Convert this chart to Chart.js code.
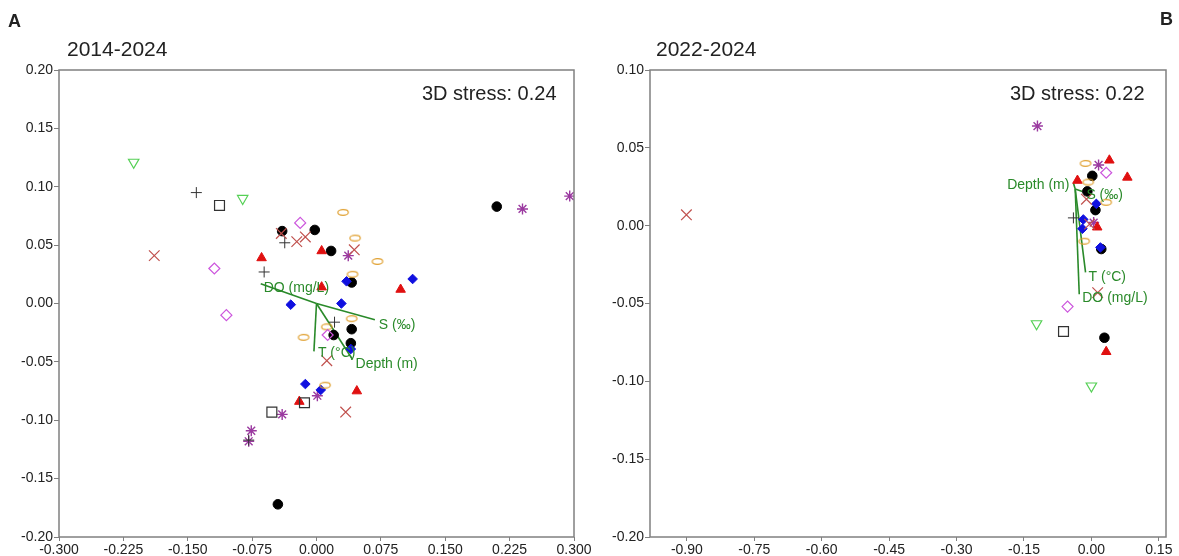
<!DOCTYPE html>
<html>
<head>
<meta charset="utf-8">
<script src="https://cdn.jsdelivr.net/npm/chart.js@4.4.1/dist/chart.umd.min.js"></script>
<style>
body { margin:0; background:#fff; width:1179px; height:556px; overflow:hidden; position:relative; font-family:"Liberation Sans", Arial, sans-serif; }
.wrap { position:absolute; top:0; height:556px; }
#wrapA { left:0; width:600px; }
#wrapB { left:589px; width:590px; }
.txt { position:absolute; color:#222; white-space:nowrap; line-height:1; }
</style>
</head>
<body>
<div class="wrap" id="wrapA"><canvas id="chartA"></canvas></div>
<div class="wrap" id="wrapB"><canvas id="chartB"></canvas></div>
<div class="txt" style="left:8px;top:12px;font-weight:bold;font-size:18px;">A</div>
<div class="txt" style="left:1160px;top:10px;font-weight:bold;font-size:18px;">B</div>
<div class="txt" style="left:67px;top:38px;font-size:21px;">2014-2024</div>
<div class="txt" style="left:656px;top:38px;font-size:21px;">2022-2024</div>
<div class="txt" style="left:422px;top:83px;font-size:20px;">3D stress: 0.24</div>
<div class="txt" style="left:1010px;top:83px;font-size:20px;">3D stress: 0.22</div>
<script>
// ---- panel A: 2014-2024 ----
var xTicksA = [-0.300, -0.225, -0.150, -0.075, 0.000, 0.075, 0.150, 0.225, 0.300];
var yTicksA = [0.20, 0.15, 0.10, 0.05, 0.00, -0.05, -0.10, -0.15, -0.20];

var circleA = [[-0.040,0.062],[-0.002,0.063],[0.017,0.045],[0.041,0.018],[0.041,-0.022],[0.020,-0.027],[0.040,-0.034],[0.210,0.083],[-0.045,-0.172]];
var triA = [[-0.064,0.039],[0.006,0.045],[0.006,0.014],[0.098,0.012],[0.047,-0.075],[-0.020,-0.084]];
var blueA = [[0.035,0.019],[0.112,0.021],[-0.030,-0.001],[0.029,0.000],[0.040,-0.039],[-0.013,-0.069],[0.005,-0.074]];
var ovalA = [[0.031,0.078],[0.045,0.056],[0.071,0.036],[0.042,0.025],[0.041,-0.013],[0.012,-0.020],[-0.015,-0.029],[0.010,-0.070]];
var starA = [[0.037,0.041],[0.001,-0.079],[-0.040,-0.095],[-0.076,-0.109],[-0.079,-0.118],[0.240,0.081],[0.295,0.092]];
var violetA = [[-0.119,0.030],[-0.105,-0.010],[-0.019,0.069],[0.013,-0.027]];
var crossA = [[-0.189,0.041],[-0.041,0.060],[-0.023,0.053],[-0.013,0.057],[0.044,0.046],[0.012,-0.049],[0.034,-0.093]];
var plusA = [[-0.140,0.095],[-0.037,0.052],[-0.061,0.027],[0.021,-0.016],[-0.079,-0.117]];
var squareA = [[-0.113,0.084],[-0.052,-0.093],[-0.014,-0.085]];
var downA = [[-0.213,0.121],[-0.086,0.090]];

var vecOriginA = [0, 0];
var vecNames = ['DO (mg/L)', 'S (‰)', 'T (°C)', 'Depth (m)'];
var vecEndA = [[-0.065,0.017],[0.068,-0.014],[-0.003,-0.041],[0.042,-0.048]];

// ---- panel B: 2022-2024 ----
var xTicksB = [-0.90, -0.75, -0.60, -0.45, -0.30, -0.15, 0.00, 0.15];
var yTicksB = [0.10, 0.05, 0.00, -0.05, -0.10, -0.15, -0.20];

var circleB = [[0.002,0.032],[-0.009,0.022],[0.009,0.010],[0.022,-0.015],[0.029,-0.072]];
var triB = [[0.040,0.042],[-0.031,0.029],[0.080,0.031],[0.013,-0.001],[0.033,-0.081]];
var blueB = [[0.011,0.014],[-0.018,0.004],[-0.020,-0.002],[0.020,-0.014]];
var ovalB = [[-0.013,0.040],[-0.007,0.028],[0.033,0.015],[-0.016,-0.010]];
var starB = [[0.016,0.039],[0.005,0.002],[-0.120,0.064]];
var violetB = [[0.033,0.034],[-0.053,-0.052]];
var crossB = [[-0.011,0.017],[-0.004,0.001],[0.014,-0.043],[-0.901,0.007]];
var plusB = [[-0.040,0.005]];
var squareB = [[-0.062,-0.068]];
var downB = [[-0.122,-0.063],[0.000,-0.103]];

var vecOriginB = [-0.036, 0.0235];
var vecEndB = [[-0.027,-0.044],[-0.020,0.022],[-0.013,-0.030],[-0.040,0.0274]];

// label placement next to vector tips (px offset, alignment)
var vecLblA = [[3,4,'left'],[4,5,'left'],[4,2,'left'],[3,5,'left']];
var vecLblB = [[3,4,'left'],[4,4,'left'],[3,5,'left'],[-4,2,'right']];

var green = '#2a8a2a';

// open ellipse marker
function ovalImg() {
   var c = document.createElement('canvas');
   c.width = 14; c.height = 9;
   var g = c.getContext('2d');
   g.strokeStyle = '#e0a030';
   g.lineWidth = 1.2;
   g.beginPath();
   g.ellipse(7, 4.5, 5.2, 2.8, 0, 0, Math.PI * 2);
   g.stroke();
   return c;
}
var oval = ovalImg();

function pts(arr) {
   return arr.map(function(p) { return {x: p[0], y: p[1]}; });
}

function series(d) {
   return [
      {data: pts(d.down), pointStyle: 'triangle', rotation: 180, radius: 6, borderColor: '#55d055', backgroundColor: 'rgba(0,0,0,0)', borderWidth: 1.2},
      {data: pts(d.plus), pointStyle: 'cross', radius: 5.5, borderColor: '#333', borderWidth: 1},
      {data: pts(d.square), pointStyle: 'rect', radius: 7, borderColor: '#333', backgroundColor: 'rgba(0,0,0,0)', borderWidth: 1.2},
      {data: pts(d.cross), pointStyle: 'crossRot', radius: 7.5, borderColor: '#c0504d', borderWidth: 1.2},
      {data: pts(d.violet), pointStyle: 'rectRot', radius: 5.5, borderColor: '#cc55dd', backgroundColor: 'rgba(0,0,0,0)', borderWidth: 1.2},
      {data: pts(d.oval), pointStyle: oval, radius: 5},
      {data: pts(d.tri), pointStyle: 'triangle', radius: 5.5, borderColor: '#e01010', backgroundColor: '#e01010', borderWidth: 1},
      {data: pts(d.blue), pointStyle: 'rectRot', radius: 4.8, borderColor: '#1010e0', backgroundColor: '#1010e0', borderWidth: 1},
      {data: pts(d.circle), pointStyle: 'circle', radius: 4.8, borderColor: '#000', backgroundColor: '#000', borderWidth: 1},
      {data: pts(d.star), pointStyle: 'star', radius: 5.5, borderColor: '#9b3aa0', borderWidth: 1.4}
   ];
}

function vectors(origin, ends) {
   return ends.map(function(e) {
      return {type: 'line', data: pts([origin, e]), borderColor: green, borderWidth: 1.6, pointRadius: 0, showLine: true};
   });
}

var boxPlugin = {
   id: 'box',
   afterDraw: function(chart) {
      var a = chart.chartArea, ctx = chart.ctx;
      ctx.save();
      ctx.strokeStyle = '#808080';
      ctx.lineWidth = 1.5;
      ctx.strokeRect(a.left, a.top, a.right - a.left, a.bottom - a.top);
      ctx.restore();
   }
};

var vecLabelPlugin = {
   id: 'veclabels',
   afterDatasetsDraw: function(chart) {
      var o = chart.options.plugins.veclabels;
      var ctx = chart.ctx, sx = chart.scales.x, sy = chart.scales.y;
      ctx.save();
      ctx.font = '14px "Liberation Sans", Arial, sans-serif';
      ctx.fillStyle = green;
      ctx.textBaseline = 'middle';
      o.ends.forEach(function(e, i) {
         var l = o.place[i];
         ctx.textAlign = l[2];
         ctx.fillText(vecNames[i], sx.getPixelForValue(e[0]) + l[0], sy.getPixelForValue(e[1]) + l[1]);
      });
      ctx.restore();
   }
};

function makeChart(id, d, xmin, xmax, ymin, ymax, xt, yt, xdec, yw, padRight, ends, origin, place) {
   var ctx = document.getElementById(id);
   return new Chart(ctx, {
      type: 'scatter',
      data: {datasets: series(d).concat(vectors(origin, ends))},
      options: {
         responsive: true,
         maintainAspectRatio: false,
         animation: false,
         events: [],
         layout: {padding: {left: 0, top: 70, right: padRight, bottom: 0}},
         plugins: {legend: {display: false}, tooltip: {enabled: false}, veclabels: {ends: ends, place: place}},
         scales: {
            x: {
               type: 'linear', min: xmin, max: xmax,
               border: {display: false},
               grid: {drawOnChartArea: false, drawTicks: true, tickLength: 4, color: '#808080'},
               ticks: {color: '#222', font: {size: 14, family: '"Liberation Sans", Arial, sans-serif'}, padding: 1, maxRotation: 0,
                  callback: function(v) { return Number(v).toFixed(xdec); }},
               afterBuildTicks: function(s) { s.ticks = xt.map(function(v) { return {value: v}; }); },
               afterFit: function(s) { s.height = 19; }
            },
            y: {
               type: 'linear', min: ymin, max: ymax,
               border: {display: false},
               grid: {drawOnChartArea: false, drawTicks: true, tickLength: 5, color: '#808080'},
               ticks: {color: '#222', font: {size: 14, family: '"Liberation Sans", Arial, sans-serif'}, padding: 1,
                  callback: function(v) { return Number(v).toFixed(2); }},
               afterBuildTicks: function(s) { s.ticks = yt.map(function(v) { return {value: v}; }); },
               afterFit: function(s) { s.width = yw; }
            }
         }
      },
      plugins: [boxPlugin, vecLabelPlugin]
   });
}

var chartA = makeChart('chartA',
   {circle: circleA, tri: triA, blue: blueA, oval: ovalA, star: starA, violet: violetA, cross: crossA, plus: plusA, square: squareA, down: downA},
   -0.3, 0.3, -0.2, 0.2, xTicksA, yTicksA, 3, 59, 26, vecEndA, vecOriginA, vecLblA);

var chartB = makeChart('chartB',
   {circle: circleB, tri: triB, blue: blueB, oval: ovalB, star: starB, violet: violetB, cross: crossB, plus: plusB, square: squareB, down: downB},
   -0.982, 0.166, -0.2, 0.1, xTicksB, yTicksB, 2, 61, 13, vecEndB, vecOriginB, vecLblB);
</script>
</body>
</html>
